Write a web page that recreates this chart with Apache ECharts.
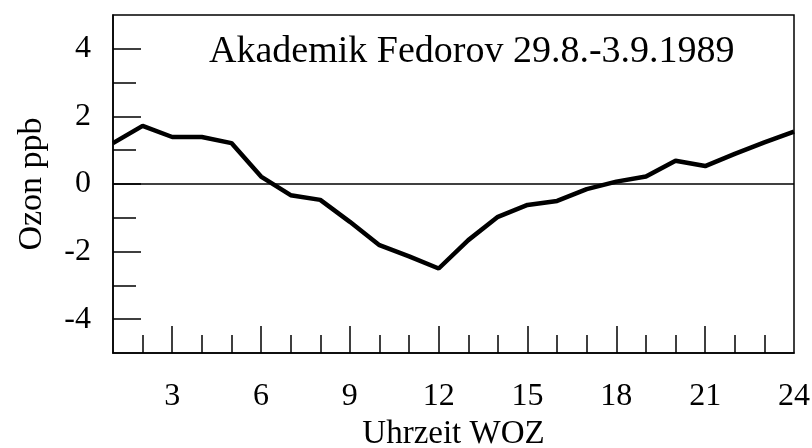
<!DOCTYPE html>
<html>
<head>
<meta charset="utf-8">
<script src="https://cdn.jsdelivr.net/npm/echarts@6/dist/echarts.min.js"></script>
<style>
  html, body { margin: 0; padding: 0; background: #fff; }
  #chart { width: 812px; height: 448px; }
</style>
</head>
<body>
<div id="chart"></div>
<script>
// Stunde (WOZ) und Ozon-Abweichung in ppb
const hours = [1, 2, 3, 4, 5, 6, 7, 8, 9, 10, 11, 12, 13, 14, 15, 16, 17, 18, 19, 20, 21, 22, 23, 24]
const ozone = [1.21, 1.72, 1.39, 1.39, 1.21, 0.22, -0.33, -0.47, -1.12, -1.81, -2.14, -2.5,
  -1.66, -0.97, -0.62, -0.5, -0.15, 0.07, 0.22, 0.69, 0.53, 0.89, 1.23, 1.55]

const xLabels = [3, 6, 9, 12, 15, 18, 21, 24]
const xMajorTicks = [3, 6, 9, 12, 15, 18, 21]
const xMinorTicks = [2, 4, 5, 7, 8, 10, 11, 13, 14, 16, 17, 19, 20, 22, 23]
const yLabels = [-4, -2, 0, 2, 4]
const yMinorTicks = [-3, -1, 1, 3]

const titleText = 'Akademik Fedorov 29.8.-3.9.1989'
const serif = '"Liberation Serif", "Times New Roman", serif'

const chart = echarts.init(document.getElementById('chart'))

const baseX = {
  type: 'value',
  min: 1,
  max: 24,
  interval: 1,
  splitLine: { show: false },
  axisLine: { show: false, onZero: false },
}
const baseY = {
  type: 'value',
  min: -5,
  max: 5,
  interval: 1,
  splitLine: { show: false },
  axisLine: { show: false, onZero: false },
}

const option = {
  backgroundColor: '#fff',
  animation: false,
  title: {
    text: titleText,
    left: 204,
    top: 28,
    textStyle: { fontFamily: serif, fontSize: 38, fontWeight: 'normal', color: '#000' },
  },
  grid: {
    left: 113,
    right: 18,
    top: 15,
    bottom: 95,
    outerBoundsMode: 'none',
    show: true,
    borderColor: '#000',
    borderWidth: 1.5,
  },
  xAxis: [
    {
      ...baseX,
      name: 'Uhrzeit WOZ',
      nameLocation: 'middle',
      nameGap: 62,
      nameTextStyle: { fontFamily: serif, fontSize: 33, color: '#000' },
      axisLine: { show: true, onZero: false, lineStyle: { color: '#000', width: 1.5 } },
      axisTick: {
        inside: true,
        length: 18,
        customValues: xMinorTicks,
        lineStyle: { color: '#000', width: 1.5 },
      },
      axisLabel: {
        customValues: xLabels,
        margin: 28,
        fontFamily: serif,
        fontSize: 32,
        color: '#000',
      },
    },
    {
      ...baseX,
      position: 'bottom',
      axisTick: {
        inside: true,
        length: 27,
        customValues: xMajorTicks,
        lineStyle: { color: '#000', width: 1.5 },
      },
      axisLabel: { show: false },
    },
  ],
  yAxis: [
    {
      ...baseY,
      name: 'Ozon ppb',
      nameLocation: 'middle',
      nameGap: 64,
      nameTextStyle: { fontFamily: serif, fontSize: 34, color: '#000' },
      axisLine: { show: true, onZero: false, lineStyle: { color: '#000', width: 1.5 } },
      axisTick: {
        inside: true,
        length: 28,
        customValues: yLabels,
        lineStyle: { color: '#000', width: 1.5 },
      },
      axisLabel: {
        customValues: yLabels,
        margin: 22,
        fontFamily: serif,
        fontSize: 32,
        color: '#000',
      },
    },
    {
      ...baseY,
      position: 'left',
      axisTick: {
        inside: true,
        length: 23,
        customValues: yMinorTicks,
        lineStyle: { color: '#000', width: 1.5 },
      },
      axisLabel: { show: false },
    },
  ],
  series: [
    {
      type: 'line',
      xAxisIndex: 0,
      yAxisIndex: 0,
      data: hours.map((h, i) => [h, ozone[i]]),
      showSymbol: false,
      lineStyle: { color: '#000', width: 4.5 },
      markLine: {
        silent: true,
        symbol: 'none',
        label: { show: false },
        lineStyle: { color: '#000', width: 1.5, type: 'solid' },
        data: [{ yAxis: 0 }],
      },
    },
  ],
}

chart.setOption(option)
</script>
</body>
</html>
